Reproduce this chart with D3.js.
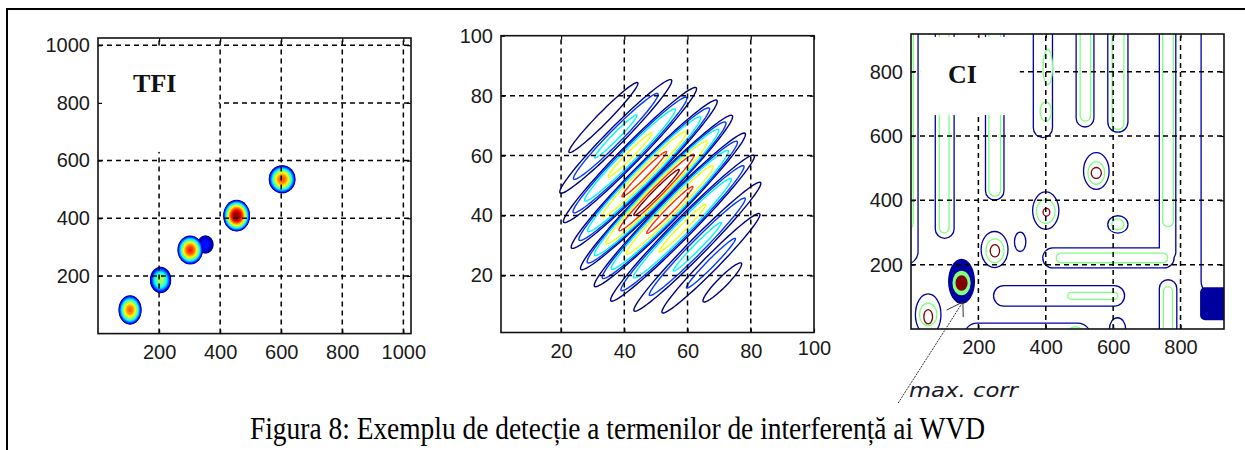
<!DOCTYPE html>
<html>
<head>
<meta charset="utf-8">
<script src="https://cdn.jsdelivr.net/npm/d3@7"></script>
<style>
  html, body { margin: 0; padding: 0; background: #fff; }
  svg { display: block; }
</style>
</head>
<body>
<div id="chart"></div>
<script>
// ---- datos ----

// panel 1: TFI
const tfiTicks = [200, 400, 600, 800, 1000];
const tfiBlobs = [
  { x: 352, y: 309, rx: 27, ry: 32, peak: 0.15 },
  { x: 105, y: 82, rx: 38, ry: 51, peak: 0.78 },
  { x: 205, y: 186, rx: 35, ry: 46, peak: 0.55 },
  { x: 302, y: 290, rx: 42, ry: 50, peak: 0.85 },
  { x: 454, y: 409, rx: 44, ry: 55, peak: 1.0 },
  { x: 603, y: 535, rx: 44, ry: 49, peak: 0.8 }
];

// panel 2: termen de interferenta (contururi)
const wvdTicks = [20, 40, 60, 80, 100];
const wvdLevels = [0.1, 0.25, 0.4, 0.6, 0.78, 0.92];
const wvdAngle = 47;
const wvdLobes = [
  { x: 33.4, y: 72.7, a: 15.9, b: 1.8, peak: 0.2 },
  { x: 37.3, y: 66.4, a: 25.8, b: 2.8, peak: 0.45 },
  { x: 41.8, y: 60.2, a: 30.7, b: 3.1, peak: 0.66 },
  { x: 46.3, y: 53.8, a: 33.7, b: 3.3, peak: 0.85 },
  { x: 50.2, y: 47.7, a: 35.1, b: 3.4, peak: 1.0 },
  { x: 54.4, y: 41.9, a: 34.9, b: 3.3, peak: 0.85 },
  { x: 58.4, y: 35.8, a: 33.2, b: 3.1, peak: 0.66 },
  { x: 63.1, y: 29.6, a: 29.3, b: 2.8, peak: 0.45 },
  { x: 67.4, y: 24.1, a: 22.6, b: 2.4, peak: 0.3 },
  { x: 71.0, y: 17.7, a: 8.8, b: 1.6, peak: 0.15 }
];

// panel 3: CI
const ciTicks = [200, 400, 600, 800];
const ciLevels = [0.03, 0.5, 1.0];
const ciBars = [
  { level: 0, x0: -60, x1: 19, y0: 203, y1: 1100 },
  { level: 0, x0: 74, x1: 126, y0: 284, y1: 1100 },
  { level: 0, x0: 223, x1: 274, y0: 403, y1: 1100 },
  { level: 0, x0: 365, x1: 418, y0: 597, y1: 1100 },
  { level: 0, x0: 492, x1: 541, y0: 630, y1: 1100 },
  { level: 0, x0: 586, x1: 642, y0: 614, y1: 1100 },
  { level: 0, x0: 739, x1: 784, y0: 215, y1: 1100 },
  { level: 0, x0: 393, x1: 779, y0: 192, y1: 250 },
  { level: 0, x0: 863, x1: 1100, y0: 110, y1: 1100 },
  { level: 0, x0: 247, x1: 632, y0: 73, y1: 133 },
  { level: 0, x0: 160, x1: 531, y0: -60, y1: 16 },
  { level: 0, x0: 739, x1: 787, y0: -60, y1: 151 },
  { level: 1, x0: -60, x1: 5, y0: 300, y1: 1100 },
  { level: 1, x0: 86, x1: 111, y0: 301, y1: 1100 },
  { level: 1, x0: 233, x1: 264, y0: 415, y1: 1100 },
  { level: 1, x0: 504, x1: 531, y0: 648, y1: 1100 },
  { level: 1, x0: 599, x1: 630, y0: 622, y1: 1100 },
  { level: 1, x0: 749, x1: 777, y0: 320, y1: 1100 },
  { level: 1, x0: 433, x1: 760, y0: 208, y1: 234 },
  { level: 1, x0: 467, x1: 612, y0: 94, y1: 112 },
  { level: 1, x0: 751, x1: 774, y0: -60, y1: 130 },
  { level: 1, x0: 464, x1: 512, y0: -60, y1: 5 }
];
const ciOvals = [
  { level: 0, x: 550, y: 491, rx: 36, ry: 55 },
  { level: 0, x: 400, y: 368, rx: 37, ry: 56 },
  { level: 0, x: 248, y: 247, rx: 38, ry: 54 },
  { level: 0, x: 324, y: 271, rx: 15, ry: 28 },
  { level: 0, x: 614, y: 325, rx: 28, ry: 25 },
  { level: 0, x: 51, y: 45, rx: 36, ry: 62 },
  { level: 0, x: 613, y: 0, rx: 22, ry: 33 },
  { level: 1, x: 550, y: 485, rx: 23, ry: 33 },
  { level: 1, x: 400, y: 365, rx: 26, ry: 35 },
  { level: 1, x: 249, y: 243, rx: 25, ry: 35 },
  { level: 1, x: 614, y: 325, rx: 16, ry: 15 },
  { level: 1, x: 51, y: 45, rx: 24, ry: 33 },
  { level: 1, x: 406, y: 814, rx: 12, ry: 52 },
  { level: 1, x: 400, y: 676, rx: 15, ry: 28 },
  { level: 2, x: 550, y: 485, rx: 13, ry: 15 },
  { level: 2, x: 402, y: 363, rx: 8, ry: 10 },
  { level: 2, x: 249, y: 243, rx: 12, ry: 17 },
  { level: 2, x: 51, y: 38, rx: 11, ry: 20 }
];
// zonas pline (maximul de corelatie si blocul din dreapta)
const ciPeak = [
  { level: 0, x: 150, y: 148, rx: 40, ry: 70 },
  { level: 1, x: 150, y: 143, rx: 27, ry: 38 },
  { level: 2, x: 150, y: 143, rx: 18, ry: 24 }
];
const ciBlock = [{ level: 0, x0: 858, x1: 1100, y0: 27, y1: 130 }];
const ciNote = { text: "max. corr", x: -6, y: -211 };
const ciArrow = [[-38, -230], [154, 84]];
const ciArrowHead = [[106, 59], [154, 84], [155, 37]];

const caption = "Figura 8: Exemplu de detecție a termenilor de interferență ai WVD";

// ---- utilidades ----
const W = 1245, H = 450;
const tickFont = "'Liberation Sans', Arial, sans-serif";

function jet(t) {
  const c = v => Math.max(0, Math.min(1, v));
  return d3.rgb(255 * c(1.5 - Math.abs(4 * t - 3)),
                255 * c(1.5 - Math.abs(4 * t - 2)),
                255 * c(1.5 - Math.abs(4 * t - 1))).formatHex();
}

const svg = d3.select("#chart")
  .append("svg")
  .attr("width", W)
  .attr("height", H);

svg.append("rect").attr("width", W).attr("height", H).attr("fill", "#fff");

function makePanel(id, xDom, xRng, yDom, yRng) {
  const x = d3.scaleLinear().domain(xDom).range(xRng);
  const y = d3.scaleLinear().domain(yDom).range(yRng);
  const g = svg.append("g");
  g.append("clipPath").attr("id", id)
    .append("rect")
    .attr("x", xRng[0]).attr("y", yRng[1])
    .attr("width", xRng[1] - xRng[0]).attr("height", yRng[0] - yRng[1]);
  const content = g.append("g").attr("clip-path", `url(#${id})`);
  return { x, y, g, content, xRng, yRng, xDom, yDom };
}

function finishPanel(p, ticksX, ticksY, box, label) {
  const { x, y, g, xRng, yRng } = p;
  // grila punctata
  const grid = g.append("g")
    .attr("stroke", "#000").attr("stroke-width", 1.5).attr("stroke-dasharray", "5,4");
  grid.selectAll(".gx").data(ticksX.filter(t => x(t) < xRng[1] - 2)).enter()
    .append("line")
    .attr("x1", d => x(d)).attr("x2", d => x(d))
    .attr("y1", yRng[0]).attr("y2", yRng[1]);
  grid.selectAll(".gy").data(ticksY.filter(t => y(t) > yRng[1] + 2)).enter()
    .append("line")
    .attr("y1", d => y(d)).attr("y2", d => y(d))
    .attr("x1", xRng[0]).attr("x2", xRng[1]);

  // caseta alba sub eticheta
  if (box) {
    g.append("rect")
      .attr("x", Math.max(x(box.x0), xRng[0])).attr("y", y(box.y1))
      .attr("width", x(box.x1) - Math.max(x(box.x0), xRng[0]))
      .attr("height", y(box.y0) - y(box.y1))
      .attr("fill", "#fff");
  }

  // axe
  const fmt = d3.format("d");
  const style = a => {
    a.select(".domain").remove();
    a.attr("font-size", 20).attr("font-family", tickFont);
    a.selectAll("line").attr("stroke", "#000").attr("stroke-width", 1.2);
    a.selectAll("text").attr("fill", "#1a1a1a");
  };
  g.append("g").attr("transform", `translate(0,${yRng[0]})`)
    .call(d3.axisBottom(x).tickValues(ticksX).tickFormat(fmt).tickSizeInner(-4).tickSizeOuter(0).tickPadding(11))
    .call(style);
  g.append("g").attr("transform", `translate(${xRng[0]},0)`)
    .call(d3.axisLeft(y).tickValues(ticksY).tickFormat(fmt).tickSizeInner(-4).tickSizeOuter(0).tickPadding(8))
    .call(style);
  g.append("g").attr("transform", `translate(0,${yRng[1]})`)
    .call(d3.axisTop(x).tickValues(ticksX).tickSizeInner(-4).tickSizeOuter(0).tickFormat(""))
    .call(style);
  g.append("g").attr("transform", `translate(${xRng[1]},0)`)
    .call(d3.axisRight(y).tickValues(ticksY).tickSizeInner(-4).tickSizeOuter(0).tickFormat(""))
    .call(style);

  g.append("rect")
    .attr("x", xRng[0]).attr("y", yRng[1])
    .attr("width", xRng[1] - xRng[0]).attr("height", yRng[0] - yRng[1])
    .attr("fill", "none").attr("stroke", "#111").attr("stroke-width", 1.6);

  if (label) {
    g.append("text")
      .attr("x", x(label.x)).attr("y", y(label.y))
      .attr("font-family", "'Liberation Serif', 'Times New Roman', serif")
      .attr("font-weight", "bold").attr("font-size", 26)
      .attr("fill", "#111")
      .text(label.text);
  }
}

// ---- chenar ----
svg.append("path")
  .attr("d", `M7,${H} V9 H${W}`)
  .attr("fill", "none").attr("stroke", "#000").attr("stroke-width", 2);

// ---- panel 1: TFI ----
const p1 = makePanel("clip1", [0, 1025], [98, 411], [0, 1025], [333.6, 38]);
const tfiStep = 0.04;
tfiBlobs.forEach(b => {
  const levels = d3.range(0, b.peak, tfiStep);
  p1.content.append("g").selectAll("ellipse").data(levels).enter()
    .append("ellipse")
    .attr("cx", p1.x(b.x)).attr("cy", p1.y(b.y))
    .attr("rx", L => (p1.x(b.rx) - p1.x(0)) * Math.sqrt(1 - L / b.peak))
    .attr("ry", L => (p1.y(0) - p1.y(b.ry)) * Math.sqrt(1 - L / b.peak))
    .attr("fill", L => jet(Math.min(1, L + tfiStep / 2)));
});
finishPanel(p1, tfiTicks, tfiTicks, { x0: 0, x1: 395, y0: 630, y1: 990 }, { text: "TFI", x: 115, y: 838 });

// ---- panel 2: contururi ----
const p2 = makePanel("clip2", [1, 100], [501, 814], [1, 100], [332.5, 35.7]);
const wvdColor = d3.scaleLinear().domain([wvdLevels[0], wvdLevels[wvdLevels.length - 1]]).range([0, 1]);
const ang = wvdAngle * Math.PI / 180;
const ring = d3.line().curve(d3.curveLinearClosed);
const phi = d3.range(0, 2 * Math.PI, Math.PI / 40);
wvdLobes.forEach(lobe => {
  const levels = wvdLevels.filter(L => L < lobe.peak);
  levels.forEach(L => {
    const s = Math.sqrt((1 - L / lobe.peak) / (1 - wvdLevels[0] / lobe.peak));
    const pts = phi.map(t => {
      const u = lobe.a * s * Math.cos(t), v = lobe.b * s * Math.sin(t);
      return [p2.x(lobe.x + u * Math.cos(ang) - v * Math.sin(ang)),
              p2.y(lobe.y + u * Math.sin(ang) + v * Math.cos(ang))];
    });
    p2.content.append("path")
      .attr("d", ring(pts))
      .attr("fill", "none")
      .attr("stroke", jet(wvdColor(L)))
      .attr("stroke-width", 1.4);
  });
});
finishPanel(p2, wvdTicks, wvdTicks, null, null);
// eticheta "100" de pe axa x apare putin mai sus
p2.g.selectAll("text").filter(function () { return this.textContent === "100" && +d3.select(this).attr("dy").replace("em", "") > 0.5; })
  .attr("dy", "0.56em");

// ---- panel 3: CI ----
const p3 = makePanel("clip3", [0, 929], [911, 1224], [0, 917], [329, 34]);
const ciColor = ciLevels.map(jet);

function drawBars(sel, data) {
  return sel.selectAll(null).data(data).enter().append("rect")
    .attr("x", d => p3.x(d.x0)).attr("y", d => p3.y(d.y1))
    .attr("width", d => p3.x(d.x1) - p3.x(d.x0))
    .attr("height", d => p3.y(d.y0) - p3.y(d.y1))
    .attr("rx", d => Math.min((p3.x(d.x1) - p3.x(d.x0)) / 2, (p3.y(d.y0) - p3.y(d.y1)) / 2, 12));
}
function drawOvals(sel, data) {
  return sel.selectAll(null).data(data).enter().append("ellipse")
    .attr("cx", d => p3.x(d.x)).attr("cy", d => p3.y(d.y))
    .attr("rx", d => p3.x(d.rx) - p3.x(0))
    .attr("ry", d => p3.y(0) - p3.y(d.ry));
}

// contur = marginea reuniunii formelor de acelasi nivel
ciLevels.forEach((lv, i) => {
  const layer = p3.content.append("g");
  const bars = ciBars.filter(d => d.level === i);
  const ovals = ciOvals.filter(d => d.level === i);
  const edge = layer.append("g").attr("fill", ciColor[i]).attr("stroke", ciColor[i]).attr("stroke-width", 2.6);
  drawBars(edge, bars);
  drawOvals(edge, ovals);
  const inner = layer.append("g").attr("fill", "#fff");
  drawBars(inner, bars);
  drawOvals(inner, ovals);
});
drawOvals(p3.content.append("g"), ciPeak).attr("fill", d => ciColor[d.level]);
drawBars(p3.content.append("g"), ciBlock).attr("fill", d => ciColor[d.level]).attr("rx", 5);

finishPanel(p3, ciTicks, ciTicks, { x0: 27, x1: 323, y0: 665, y1: 908 }, { text: "CI", x: 110, y: 765 });

// adnotare
p3.g.append("path")
  .attr("d", d3.line()(ciArrow.map(d => [p3.x(d[0]), p3.y(d[1])])))
  .attr("fill", "none").attr("stroke", "#333").attr("stroke-width", 1).attr("stroke-dasharray", "2,1");
p3.g.append("path")
  .attr("d", d3.line()(ciArrowHead.map(d => [p3.x(d[0]), p3.y(d[1])])))
  .attr("fill", "none").attr("stroke", "#333").attr("stroke-width", 1);
p3.g.append("text")
  .attr("x", p3.x(ciNote.x)).attr("y", p3.y(ciNote.y))
  .attr("font-family", "'DejaVu Sans', Verdana, sans-serif")
  .attr("font-style", "italic").attr("font-size", 19)
  .attr("textLength", 109).attr("lengthAdjust", "spacingAndGlyphs")
  .attr("fill", "#1a1a2a")
  .text(ciNote.text);

// ---- legenda figurii ----
svg.append("text")
  .attr("x", 250).attr("y", 439)
  .attr("font-family", "'Liberation Serif', 'Times New Roman', serif")
  .attr("font-size", 31)
  .attr("textLength", 735).attr("lengthAdjust", "spacingAndGlyphs")
  .attr("fill", "#000")
  .text(caption);
</script>
</body>
</html>
